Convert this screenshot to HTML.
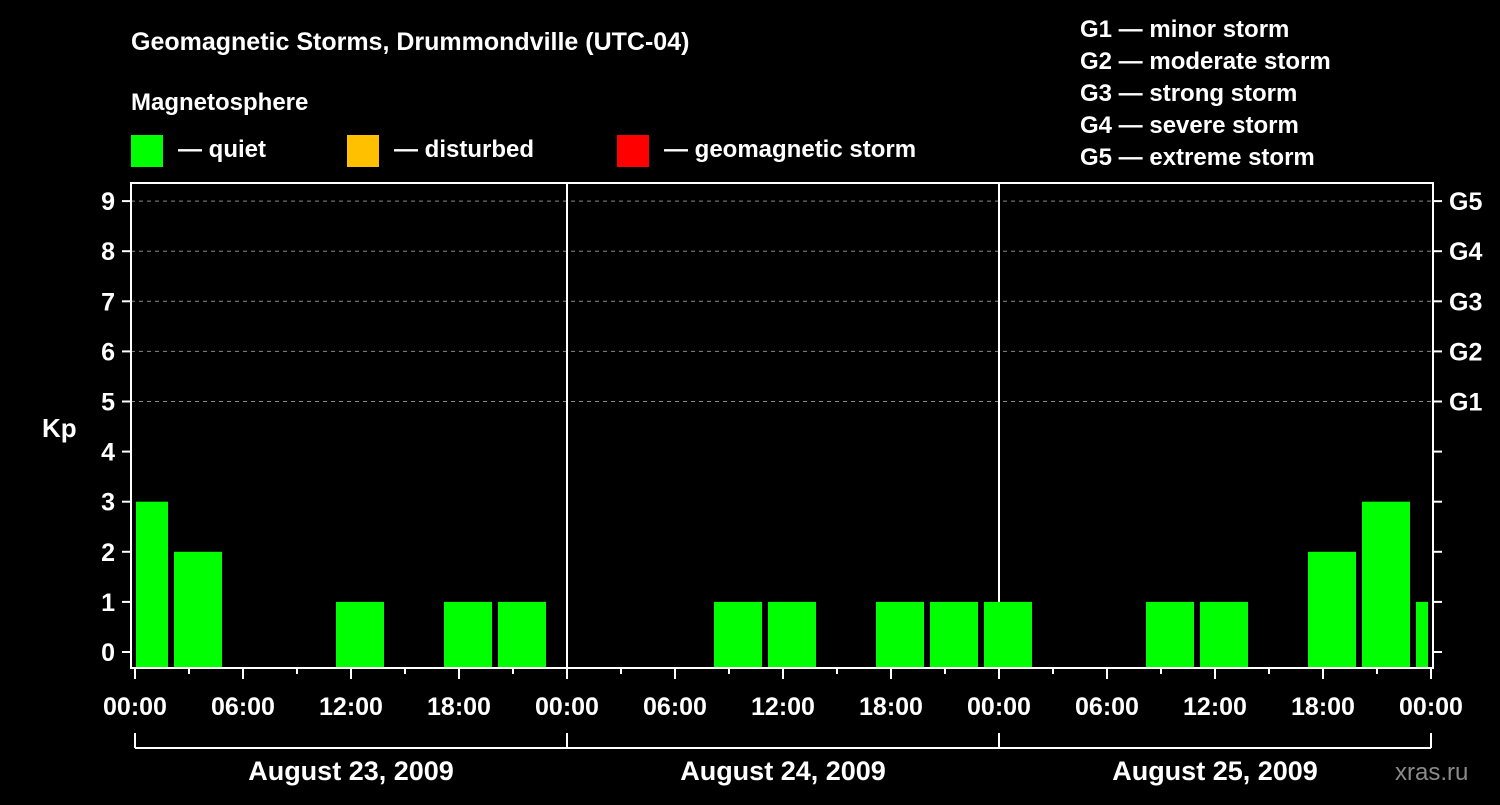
<!DOCTYPE html>
<html><head><meta charset="utf-8"><style>
html,body{margin:0;padding:0;background:#000;}
svg text{font-family:"Liberation Sans",sans-serif;font-weight:bold;fill:#fff;}
</style></head><body>
<svg id="chart" width="1500" height="800" xmlns="http://www.w3.org/2000/svg">
<rect width="1500" height="800" fill="#000"/>
<text x="131" y="50" font-size="25">Geomagnetic Storms, Drummondville (UTC-04)</text>
<text x="131" y="110" font-size="24">Magnetosphere</text>
<g><rect x="131" y="135" width="32" height="32" fill="#00ff00"/><text x="178" y="157" font-size="24">— quiet</text></g>
<g><rect x="347" y="135" width="32" height="32" fill="#ffc000"/><text x="394" y="157" font-size="24">— disturbed</text></g>
<g><rect x="617" y="135" width="32" height="32" fill="#ff0000"/><text x="664" y="157" font-size="24">— geomagnetic storm</text></g>
<g font-size="24">
<text x="1080" y="37">G1 — minor storm</text>
<text x="1080" y="69">G2 — moderate storm</text>
<text x="1080" y="101">G3 — strong storm</text>
<text x="1080" y="133">G4 — severe storm</text>
<text x="1080" y="165">G5 — extreme storm</text>
</g>
<g id="grid"></g>
<g id="bars"></g>
<g id="axes"></g>
<text x="42" y="437" font-size="26">Kp</text>
<text x="1395" y="780" font-size="24" fill="#888" style="fill:#8a8a8a;font-weight:normal">xras.ru</text>
</svg>
<script>
const days = ["August 23, 2009","August 24, 2009","August 25, 2009"];
const slotStartHours = [-1,2,5,8,11,14,17,20];
const kpDay1 = [3,2,0,0,1,0,1,1];
const kpDay2 = [0,0,0,1,1,0,1,1];
const kpDay3 = [1,0,0,1,1,0,2,3];
const kpTail = [1];
const yTicks = [0,1,2,3,4,5,6,7,8,9];
const gLabels = ["G1","G2","G3","G4","G5"];
const xTickLabels = ["00:00","06:00","12:00","18:00"];

const NS="http://www.w3.org/2000/svg";
const X0=135, PXH=18, L=131, R=1433, T=183, B=668;
const xs=h=>X0+h*PXH;
const ys=v=>652-v*50.1;
function mk(tag,attrs,parent){const e=document.createElementNS(NS,tag);for(const k in attrs)e.setAttribute(k,attrs[k]);parent.appendChild(e);return e;}
const grid=document.getElementById('grid'),bars=document.getElementById('bars'),axes=document.getElementById('axes');

for(let v=5;v<=9;v++){
  const l=mk('line',{x1:L,x2:R,y1:ys(v),y2:ys(v),stroke:'#888','stroke-dasharray':'4,4','stroke-width':1},grid);
  
  
}
for(let d=1;d<3;d++){
  const l=mk('line',{x1:xs(d*24),x2:xs(d*24),y1:T,y2:B,stroke:'#fff','stroke-width':2},grid);
  
  
}
// bars
const series=[kpDay1,kpDay2,kpDay3];
function drawBar(h,v){
  if(v<=0)return;
  let a=xs(h)+3,b=xs(h+3)-3;
  a=Math.max(a,136);b=Math.min(b,1428);
  if(b<=a)return;
  const r=mk('rect',{x:a,y:ys(v),width:b-a,height:B-ys(v),fill:'#00ff00'},bars);
  
  
}
series.forEach((arr,d)=>arr.forEach((v,i)=>drawBar(d*24+slotStartHours[i],v)));
kpTail.forEach(v=>drawBar(72-1,v));

// frame
const fr=mk('rect',{x:L,y:T,width:R-L,height:B-T,fill:'none',stroke:'#fff','stroke-width':2},axes);


yTicks.forEach(v=>{
  mk('line',{x1:L-9,x2:L,y1:ys(v),y2:ys(v),stroke:'#fff','stroke-width':2},axes);
  mk('line',{x1:R,x2:R+9,y1:ys(v),y2:ys(v),stroke:'#fff','stroke-width':2},axes);
  const t=mk('text',{x:115,y:ys(v)+9,'text-anchor':'end','font-size':25},axes);
  t.textContent=v;
  
  
});
gLabels.forEach((g,i)=>{
  const t=mk('text',{x:1449,y:ys(5+i)+9,'font-size':25},axes);
  t.textContent=g;
  
  
});
for(let h=0;h<=72;h+=3){
  const major=h%6===0;
  mk('line',{x1:xs(h),x2:xs(h),y1:B,y2:B+(major?11:6),stroke:'#fff','stroke-width':2},axes);
  if(major){
    const t=mk('text',{x:xs(h),y:715,'text-anchor':'middle','font-size':25},axes);
    t.textContent=xTickLabels[(h/6)%4];
    
    
  }
}
mk('line',{x1:xs(0),x2:xs(72),y1:748,y2:748,stroke:'#fff','stroke-width':2},axes);
for(let d=0;d<=3;d++) mk('line',{x1:xs(d*24),x2:xs(d*24),y1:733,y2:748,stroke:'#fff','stroke-width':2},axes);
days.forEach((s,d)=>{
  const t=mk('text',{x:xs(d*24+12),y:780,'text-anchor':'middle','font-size':27},axes);
  t.textContent=s;
  
  
});
</script>
</body></html>
